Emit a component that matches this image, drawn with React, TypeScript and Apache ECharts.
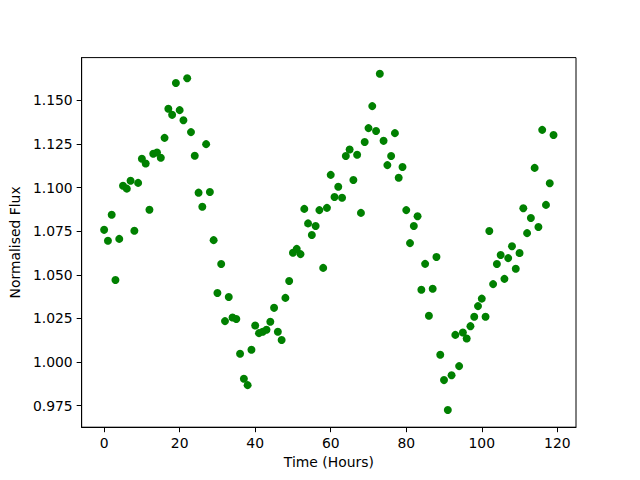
import React, { useEffect, useRef } from "react";
import * as echarts from "echarts";

const hours: number[] = Array.from({ length: 120 }, (_, i) => i);

const flux: number[] = [
  1.0758, 1.0695, 1.0844, 1.0471, 1.0706, 1.1011, 1.0994, 1.1039, 1.0753, 1.1027,
  1.1165, 1.1138, 1.0873, 1.1194, 1.1201, 1.1171, 1.1285, 1.1452, 1.1417, 1.1599,
  1.1444, 1.1386, 1.1627, 1.1318, 1.1183, 1.0971, 1.0890, 1.1249, 1.0975, 1.0699,
  1.0396, 1.0562, 1.0235, 1.0373, 1.0256, 1.0247, 1.0048, 0.9905, 0.9868, 1.0071,
  1.0210, 1.0166, 1.0174, 1.0185, 1.0231, 1.0311, 1.0174, 1.0127, 1.0368, 1.0465,
  1.0627, 1.0649, 1.0619, 1.0878, 1.0795, 1.0728, 1.0780, 1.0871, 1.0540, 1.0884,
  1.1073, 1.0946, 1.1005, 1.0942, 1.1181, 1.1218, 1.1044, 1.1188, 1.0855, 1.1261,
  1.1341, 1.1467, 1.1324, 1.1652, 1.1268, 1.1129, 1.1181, 1.1312, 1.1056, 1.1118,
  1.0871, 1.0682, 1.0780, 1.0836, 1.0415, 1.0563, 1.0266, 1.0420, 1.0602, 1.0042,
  0.9897, 0.9726, 0.9925, 1.0156, 0.9977, 1.0170, 1.0135, 1.0206, 1.0260, 1.0321,
  1.0364, 1.0260, 1.0751, 1.0447, 1.0562, 1.0614, 1.0477, 1.0596, 1.0664, 1.0535,
  1.0625, 1.0882, 1.0739, 1.0826, 1.1113, 1.0774, 1.1331, 1.0901, 1.1025, 1.1301,
];

const xTicks: number[] = [0, 20, 40, 60, 80, 100, 120];
const yTicks: number[] = [0.975, 1.0, 1.025, 1.05, 1.075, 1.1, 1.125, 1.15];

const FONT = "DejaVu Sans";

export default function App() {
  const ref = useRef<HTMLDivElement>(null);
  useEffect(() => {
    if (!ref.current) return;
    const chart = echarts.init(ref.current, null, { renderer: "svg" });
    const points = hours.map((h, i) => [h, flux[i]]);
    chart.setOption({
      animation: false,
      backgroundColor: "#ffffff",
      grid: {
        left: 80,
        right: 64,
        top: 57.6,
        bottom: 52.8,
        show: true,
        borderColor: "#000000",
        borderWidth: 1,
        backgroundColor: "transparent",
      },
      xAxis: {
        type: "value",
        min: -5.95,
        max: 124.95,
        name: "Time (Hours)",
        nameLocation: "middle",
        nameGap: 28,
        nameTextStyle: { fontFamily: FONT, fontSize: 13.9, color: "#000" },
        axisLine: { show: true, onZero: false, lineStyle: { color: "#000", width: 1 } },
        axisTick: { show: true, inside: false, length: 5, lineStyle: { color: "#000" }, customValues: xTicks },
        axisLabel: {
          fontFamily: FONT,
          fontSize: 13.9,
          color: "#000",
          margin: 9,
          customValues: xTicks,
          formatter: (v: number) => String(v),
        },
        splitLine: { show: false },
      },
      yAxis: {
        type: "value",
        min: 0.9627,
        max: 1.1745,
        name: "Normalised Flux",
        nameLocation: "middle",
        nameGap: 56,
        nameTextStyle: { fontFamily: FONT, fontSize: 13.9, color: "#000" },
        axisLine: { show: true, onZero: false, lineStyle: { color: "#000", width: 1 } },
        axisTick: { show: true, inside: false, length: 5, lineStyle: { color: "#000" }, customValues: yTicks },
        axisLabel: {
          fontFamily: FONT,
          fontSize: 13.9,
          color: "#000",
          margin: 9,
          customValues: yTicks,
          formatter: (v: number) => v.toFixed(3),
        },
        splitLine: { show: false },
      },
      series: [
        {
          type: "scatter",
          data: points,
          symbol: "circle",
          symbolSize: 8,
          itemStyle: { color: "#008000", opacity: 1 },
          emphasis: { disabled: true },
        },
      ],
    });
    return () => chart.dispose();
  }, []);
  return (
    <div
      ref={ref}
      style={{ position: "fixed", left: 0, top: 0, width: 640, height: 480 }}
    />
  );
}
